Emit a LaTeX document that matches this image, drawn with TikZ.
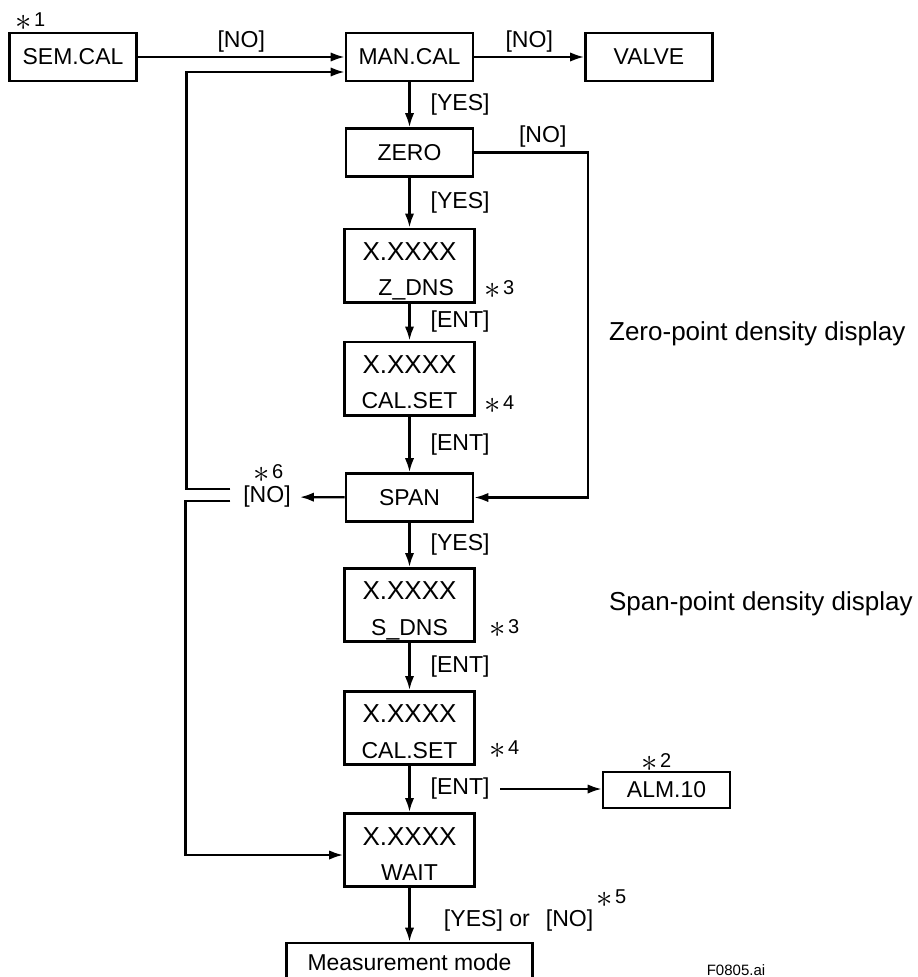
\documentclass[tikz,border=0pt]{standalone}
\usepackage{fontspec}
\setmainfont{Liberation Sans}
\usepackage{tikz}
\usetikzlibrary{arrows.meta}
\usetikzlibrary{calc}
\usetikzlibrary{positioning}

\newcommand{\starnote}[1]{\smash{\raisebox{-2.5pt}{\scalebox{1.7}{$\ast$}}}\hspace{2pt}#1}
\newcommand{\bigx}{\fontsize{19.5}{26.5}\selectfont\rule{0pt}{19pt}X.XXXX}

\begin{document}
\begin{tikzpicture}[ x=0.75pt, y=-0.75pt, >={Latex[length=10.5pt,width=7pt]},
      line width=1.7pt,
      box/.style={draw, line width=2pt, minimum width=95.25pt,
        minimum height=36pt, inner sep=0pt, font=\fontsize{17.2}{20}\selectfont},
      tallbox/.style={box, minimum width=97.5pt, minimum height=55pt,
        align=center, font=\fontsize{17.25}{26.5}\selectfont},
      lbl/.style={font=\fontsize{17.3}{20}\selectfont, inner sep=2pt},
      starlbl/.style={font=\fontsize{15}{17}\selectfont, inner sep=0pt, anchor=west},
      side/.style={font=\fontsize{19.5}{23}\selectfont, inner sep=0pt} ]

      \path[use as bounding box, clip] (0,0) rectangle (917,977);

      % Boxes
      \node[box] (semcal) at (73,57) {SEM.CAL};
      \node[box] (mancal) at (409.5,57) {MAN.CAL};
      \node[box] (valve) at (649,57) {VALVE};
      \node[box] (zero) at (409.5,152.5) {ZERO};
      \node[tallbox] (zdns) at (409.5,265.5) {\bigx\\\hspace*{10pt}Z\smash{\_}DNS};
      \node[tallbox] (calsetz) at (409.5,378.5) {\bigx\\CAL.SET};
      \node[box] (span) at (409.5,497.5) {SPAN};
      \node[tallbox] (sdns) at (409.5,605) {\bigx\\S\smash{\_}DNS};
      \node[tallbox] (calsets) at (409.5,728) {\bigx\\CAL.SET};
      \node[tallbox] (wait) at (409.5,850) {\bigx\\WAIT};
      \node[box, minimum width=184.5pt, minimum height=28.5pt] (meas)
        at (409.5,962) {Measurement mode};
      \node[box, minimum height=27pt] (alm) at (666.5,790) {ALM.10};

      % Main flow
      \draw[->] (semcal) -- node[lbl, above=1pt] {[NO]} (mancal);
      \draw[->] (mancal) -- node[lbl, above=1pt] {[NO]} (valve);
      \draw[->] (mancal) -- node[lbl, right=13pt] {[YES]} (zero);
      \draw[->] (zero) -- node[lbl, right=13pt] {[YES]} (zdns);
      \draw[->] (zdns) -- node[lbl, right=13pt] {[ENT]} (calsetz);
      \draw[->] (calsetz) -- node[lbl, right=13pt] {[ENT]} (span);
      \draw[->] (span) -- node[lbl, right=13pt] {[YES]} (sdns);
      \draw[->] (sdns) -- node[lbl, right=13pt] {[ENT]} (calsets);
      \draw[->] (calsets) -- node[lbl, right=13pt] (entfive) {[ENT]} (wait);
      \draw[->] (wait) -- node[lbl, right=23pt, pos=0.6] (yesno)
        {[YES] or\hspace{12pt}[NO]} (meas);

      % Zero skipped
      \draw[->] (zero.east) -- node[lbl, above=1pt, pos=0.6] {[NO]} ++(114,0)
        |- (span.east);

      % Span skipped, back to MAN.CAL or on to WAIT
      \node[lbl] (nosix) at (267,497) {[NO]};
      \draw[->, shorten >=4pt] (span) -- (nosix);
      \draw[->] ($(nosix.west)+(-9,-8)$) -- ++(-44,0)
        |- ($(mancal.west)+(0,15)$);
      \draw[->] ($(nosix.west)+(-9,4)$) -- ++(-45,0)
        |- ($(wait.west)+(0,5)$);

      % Alarm
      \draw[->] ($(entfive.east)+(7,0)$) -- (entfive.east -| alm.west);

      % Notes
      \node[starlbl] (one) at (14,20) {\starnote{1}};
      \node[starlbl] (two) at (640,761) {\starnote{2}};
      \node[starlbl] (threez) at (483,288) {\starnote{3}};
      \node[starlbl] (fourz) at (483,403) {\starnote{4}};
      \node[starlbl] (threes) at (488,627) {\starnote{3}};
      \node[starlbl] (fours) at (488,748) {\starnote{4}};
      \node[starlbl] (five) at (595,897) {\starnote{5}};
      \node[starlbl] (six) at (252,472) {\starnote{6}};

      % Side texts
      \node[side, anchor=west] (zerotxt) at (608,334) {Zero-point density display};
      \node[side, anchor=west] (spantxt) at (608,604) {Span-point density display};
      \node[font=\fontsize{11.25}{13}\selectfont] (fig) at (736,970) {F0805.ai};
    \end{tikzpicture}
\end{document}
